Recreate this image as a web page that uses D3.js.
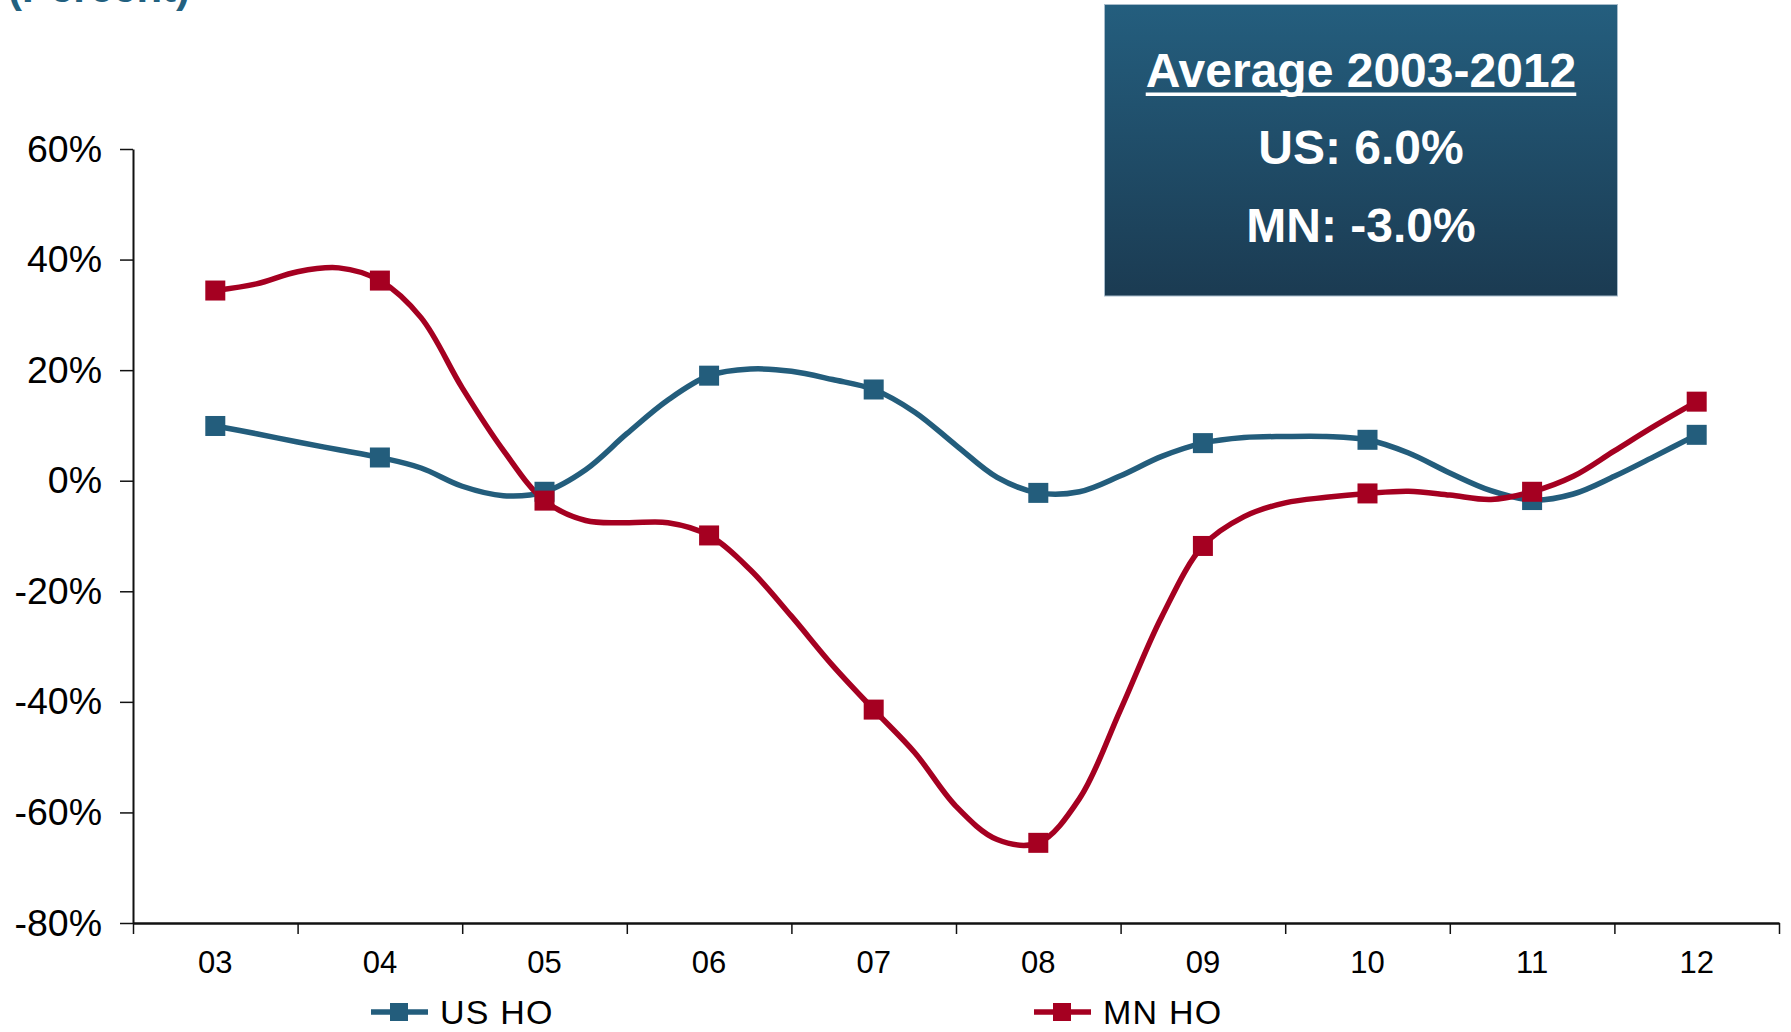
<!DOCTYPE html>
<html>
<head>
<meta charset="utf-8">
<script src="https://cdn.jsdelivr.net/npm/d3@7/dist/d3.min.js"></script>
<style>
  html, body { margin: 0; padding: 0; background: #fff; }
  svg { display: block; font-family: "Liberation Sans", Arial, sans-serif; }
</style>
</head>
<body>
<svg id="chart" width="1791" height="1032"></svg>
<script>
// Year labels on the category axis
const years = ["03", "04", "05", "06", "07", "08", "09", "10", "11", "12"];

// Quarterly year-over-year change (percent); the first point of each year is marked
const usHO = [
  9.9, 8.5, 7.0, 5.6,
  4.2, 2.3, -1.0, -2.7,
  -2.0, 2.0, 8.5, 14.6,
  19.0, 20.2, 19.8, 18.3,
  16.5, 12.4, 6.4, 0.6,
  -2.2, -2.0, 0.9, 4.4,
  6.8, 7.8, 8.0, 8.0,
  7.4, 5.0, 1.4, -1.8,
  -3.5, -2.4, 0.8, 4.5,
  8.3
];
const mnHO = [
  34.4, 35.6, 37.8, 38.5,
  36.2, 29.5, 16.8, 5.5,
  -3.6, -7.2, -7.6, -7.6,
  -9.9, -16.1, -24.5, -33.4,
  -41.4, -49.2, -58.9, -64.9,
  -65.5, -57.5, -41.4, -24.6,
  -11.8, -6.5, -4.0, -3.0,
  -2.3, -1.9, -2.6, -3.4,
  -2.0, 0.8, 5.4, 10.0,
  14.3
];

const seriesNames = ["US HO", "MN HO"];
const seriesColors = ["#235d7c", "#a50021"];
const yTicks = [-80, -60, -40, -20, 0, 20, 40, 60];
const boxLines = ["Average 2003-2012", "US: 6.0%", "MN: -3.0%"];

const svg = d3.select("#chart");

const x = d3.scaleLinear().domain([-0.5, years.length - 0.5]).range([133, 1779]);
const y = d3.scaleLinear().domain([-80, 60]).range([923, 149]);

// Title (partly above the visible area)
svg.append("text")
  .attr("x", 8).attr("y", 2)
  .attr("font-size", 42).attr("font-weight", "bold")
  .attr("fill", "#22607f")
  .text("(Percent)");

// Y axis
const yAxis = svg.append("g")
  .attr("transform", `translate(${x(-0.5)},0)`)
  .call(d3.axisLeft(y).tickValues(yTicks).tickSize(13).tickSizeOuter(0)
    .tickFormat(d => d + "%").tickPadding(18));
yAxis.select(".domain").attr("stroke", "#111").attr("stroke-width", 2);
yAxis.selectAll(".tick line").attr("stroke", "#111").attr("stroke-width", 1.5);
yAxis.selectAll(".tick text")
  .attr("font-size", 37.5).attr("fill", "#000")
  .attr("font-family", "'Liberation Sans', Arial, sans-serif");

// X axis: ticks at category boundaries, labels at category centres
const boundaries = d3.range(-0.5, years.length, 1);
const xAxis = svg.append("g")
  .attr("transform", `translate(0,${y(-80)})`)
  .call(d3.axisBottom(x).tickValues(boundaries).tickSize(11).tickSizeOuter(0).tickFormat(""));
xAxis.select(".domain").attr("stroke", "#111").attr("stroke-width", 2.5);
xAxis.selectAll(".tick line").attr("stroke", "#111").attr("stroke-width", 1.5);

svg.append("g").selectAll("text")
  .data(years)
  .join("text")
  .attr("x", (d, i) => x(i))
  .attr("y", 973)
  .attr("text-anchor", "middle")
  .attr("font-size", 31)
  .attr("fill", "#000")
  .text(d => d);

// Lines
const line = d3.line()
  .x((d, i) => x(i / 4))
  .y(d => y(d))
  .curve(d3.curveCatmullRom.alpha(0.5));

[usHO, mnHO].forEach((vals, s) => {
  svg.append("path")
    .datum(vals)
    .attr("fill", "none")
    .attr("stroke", seriesColors[s])
    .attr("stroke-width", 5.5)
    .attr("stroke-linejoin", "round")
    .attr("d", line);
});

// Year markers (every fourth quarterly point)
[usHO, mnHO].forEach((vals, s) => {
  const pts = vals.map((v, i) => ({ t: i / 4, v })).filter((d, i) => i % 4 === 0);
  svg.append("g").selectAll("rect")
    .data(pts)
    .join("rect")
    .attr("x", d => x(d.t) - 10)
    .attr("y", d => y(d.v) - 10)
    .attr("width", 20).attr("height", 20)
    .attr("fill", seriesColors[s]);
});

// Legend
const legendX = [371, 1034];
seriesNames.forEach((name, s) => {
  const g = svg.append("g").attr("transform", `translate(${legendX[s]},1012)`);
  g.append("line").attr("x1", 0).attr("x2", 57).attr("y1", 0).attr("y2", 0)
    .attr("stroke", seriesColors[s]).attr("stroke-width", 5.5);
  g.append("rect").attr("x", 19).attr("y", -9).attr("width", 18).attr("height", 18)
    .attr("fill", seriesColors[s]);
  g.append("text").attr("x", 69).attr("y", 12)
    .attr("font-size", 34).attr("fill", "#000").attr("letter-spacing", 1.2)
    .text(name);
});

// Averages box
const defs = svg.append("defs");
const grad = defs.append("linearGradient").attr("id", "boxFill")
  .attr("x1", 0).attr("y1", 0).attr("x2", 0).attr("y2", 1);
grad.append("stop").attr("offset", "0%").attr("stop-color", "#245e7e");
grad.append("stop").attr("offset", "100%").attr("stop-color", "#1b3b52");

const box = { x: 1104.5, y: 4.5, w: 513, h: 291.5 };
svg.append("rect")
  .attr("x", box.x).attr("y", box.y).attr("width", box.w).attr("height", box.h)
  .attr("fill", "url(#boxFill)")
  .attr("stroke", "#a8bccb").attr("stroke-width", 1);

const cx = box.x + box.w / 2;
const baselines = [87, 164, 242];
boxLines.forEach((t, i) => {
  const txt = svg.append("text")
    .attr("x", cx).attr("y", baselines[i])
    .attr("text-anchor", "middle")
    .attr("font-size", 48).attr("font-weight", "bold")
    .attr("fill", "#fff")
    .text(t);
  if (i === 0) {
    const w = txt.node().getComputedTextLength();
    svg.append("rect")
      .attr("x", cx - w / 2).attr("y", 92.5)
      .attr("width", w).attr("height", 3.5)
      .attr("fill", "#fff");
  }
});
</script>
</body>
</html>
